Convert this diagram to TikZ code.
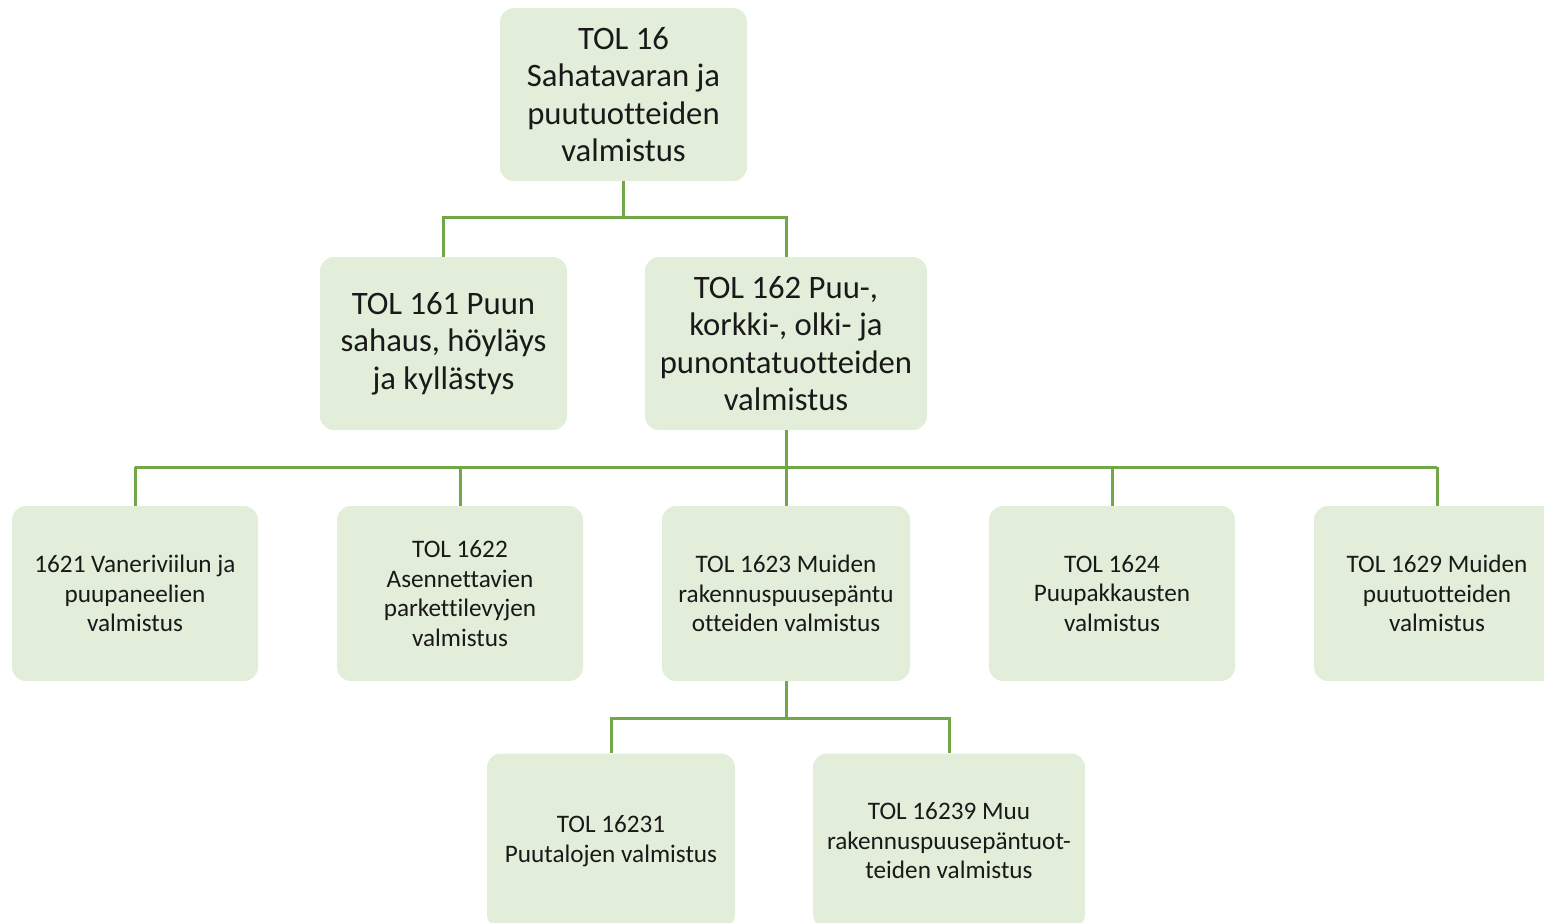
\documentclass[tikz,border=0pt]{standalone}
\usepackage{fontspec}
\setmainfont{Carlito}[Ligatures=NoCommon]
\definecolor{boxfill}{RGB}{226,237,218}
\definecolor{linegreen}{RGB}{112,168,72}
\definecolor{txt}{RGB}{25,25,25}
\begin{document}
\begin{tikzpicture}[x=1pt,y=1pt,
  bigbox/.style={fill=boxfill, draw=none, rounded corners=14pt, inner sep=0pt, align=center, text=txt,
     font=\fontsize{32.7}{37.5}\selectfont},
  smallbox/.style={fill=boxfill, draw=none, rounded corners=14pt, inner sep=0pt, align=center, text=txt,
     font=\fontsize{25.2}{29.5}\selectfont, minimum width=246pt, minimum height=175pt},
  conn/.style={draw=linegreen, line width=3pt}]
\useasboundingbox (0,0) rectangle (1544,-923);
\clip (0,0) rectangle (1544,-923);
% level 1
\node[bigbox, minimum width=247pt, minimum height=173pt] (top) at (623.5,-94.5)
  {TOL 16\\Sahatavaran ja\\puutuotteiden\\valmistus};
% level 2
\node[bigbox, minimum width=247pt, minimum height=173pt] (b161) at (443.5,-343.5)
  {TOL 161 Puun\\sahaus, höyläys\\ja kyllästys};
\node[bigbox, minimum width=282pt, minimum height=173pt] (b162) at (786,-343.5)
  {TOL 162 Puu-,\\korkki-, olki- ja\\punontatuotteiden\\valmistus};
% level 3
\node[smallbox] (b1621) at (135,-593.5) {1621 Vaneriviilun ja\\puupaneelien\\valmistus};
\node[smallbox] (b1622) at (460,-593.5) {TOL 1622\\Asennettavien\\parkettilevyjen\\valmistus};
\node[smallbox, minimum width=248pt] (b1623) at (786,-593.5) {TOL 1623 Muiden\\rakennuspuusepäntu\\otteiden valmistus};
\node[smallbox] (b1624) at (1112,-593.5) {TOL 1624\\Puupakkausten\\valmistus};
\node[smallbox] (b1629) at (1437,-593.5) {TOL 1629 Muiden\\puutuotteiden\\valmistus};
% level 4
\node[smallbox, minimum width=248pt] (b16231) at (611,-841) {TOL 16231\\Puutalojen valmistus};
\node[smallbox, minimum width=272pt] (b16239) at (949,-841) {TOL 16239 Muu\\rakennuspuusepäntuot-\\teiden valmistus};
% connectors
\draw[conn] (top.south) -- ++(0,-36) coordinate (j1);
\draw[conn] (j1) -| (b161.north);
\draw[conn] (j1) -| (b162.north);
\draw[conn] (b162.south) -- (b1623.north);
\path (b162.south) ++(0,-37) coordinate (j2);
\draw[conn] (j2 -| b1621.north) -- (j2 -| b1629.north);
\foreach \n in {b1621,b1622,b1624,b1629}{
  \draw[conn] (j2 -| \n.north) -- (\n.north);
}
\draw[conn] (b1623.south) -- ++(0,-37) coordinate (j3);
\draw[conn] (j3) -| (b16231.north);
\draw[conn] (j3) -| (b16239.north);
\end{tikzpicture}
\end{document}
